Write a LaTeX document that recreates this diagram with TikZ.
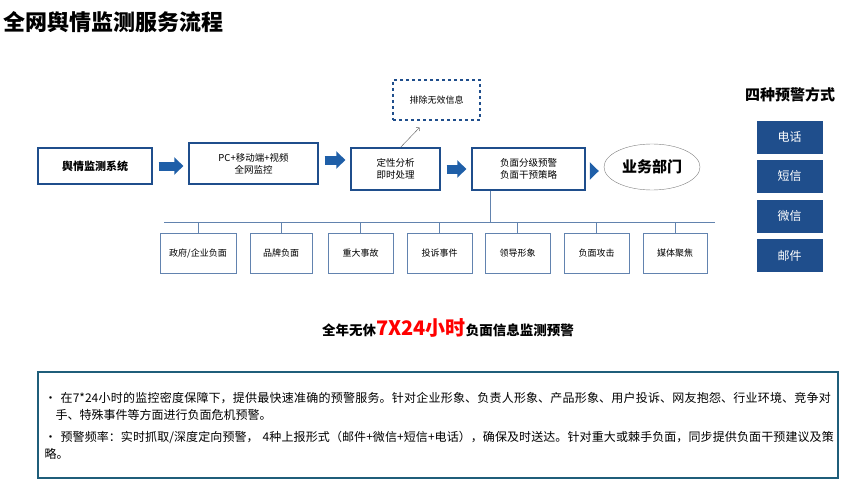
\documentclass[tikz,border=0pt]{standalone}
\usepackage{fontspec}
\setmainfont{Noto Sans CJK SC}
\XeTeXlinebreaklocale "zh"
\XeTeXlinebreakskip=0pt plus 1pt
\usetikzlibrary{arrows.meta, shapes.geometric}
\definecolor{boxblue}{HTML}{1F4E8C}
\definecolor{arrblue}{HTML}{1F5FA8}
\definecolor{tealline}{HTML}{1F5E7A}

\tikzset{
  flowbox/.style={draw=boxblue, line width=1.3pt, fill=white, inner sep=0pt, font=\fontsize{9.5}{12}\selectfont, align=center},
  leafbox/.style={draw=boxblue!70, line width=0.8pt, fill=white, minimum height=40pt, inner sep=0pt, font=\fontsize{9}{10}\selectfont},
  modebox/.style={draw=boxblue, fill=boxblue, text=white, minimum width=65pt, minimum height=32pt, font=\fontsize{12}{14}\selectfont},
  blockarrow/.style={arrblue, line width=9pt, -{Triangle[length=9pt,width=17pt]}, shorten <=6pt, shorten >=5pt}
}

\begin{document}
\begin{tikzpicture}[x=1pt, y=-1pt]
		\useasboundingbox (0,0) rectangle (853,500);

		% Title
		\node[anchor=west, font=\fontsize{22}{26}\selectfont\bfseries] (title) at (0,22) {全网舆情监测服务流程};

		% Main flow
		\node[flowbox, minimum width=114pt, minimum height=36pt, font=\fontsize{11}{13}\selectfont\bfseries] (sys) at (95,166) {\raisebox{-8pt}{舆情监测系统}};
		\node[flowbox, minimum width=129pt, minimum height=41pt] (pc) at (253.5,163.5) {PC+移动端+视频\\全网监控};
		\node[flowbox, minimum width=89pt, minimum height=42pt] (ana) at (395.5,169) {定性分析\\即时处理};
		\node[flowbox, minimum width=113pt, minimum height=42pt] (warn) at (528.5,169) {负面分级预警\\负面干预策略};
		\node[draw=gray, ellipse, fill=white, minimum width=96pt, minimum height=46pt, font=\fontsize{15}{17}\selectfont\bfseries] (dept) at (652,167) {业务部门};
		\node[draw=boxblue, dashed, line width=1.2pt, minimum width=87pt, minimum height=40pt, font=\fontsize{9}{10}\selectfont] (excl) at (436.5,100) {排除无效信息};

		% Arrows
		\draw[blockarrow] (sys.east) -- (sys.east -| pc.west);
		\draw[blockarrow] ([yshift=3.5pt]pc.east) -- ([yshift=3.5pt]pc.east -| ana.west);
		\draw[blockarrow] (ana.east) -- (warn.west);
		\draw[blockarrow] ([yshift=-2pt]warn.east) -- ([yshift=-2pt]warn.east -| dept.west);
		\coordinate (ex) at ([xshift=5pt]ana.north);
		\coordinate (exend) at ([xshift=-17pt, yshift=-7pt]excl.south);
		\draw[->, gray!70!black] (ex) -- (exend);

		% Leaf boxes
		\coordinate (bus) at (490,222);
		\draw[boxblue!70, line width=0.8pt] (warn.south -| bus) -- (bus);
		\draw[boxblue!70, line width=0.8pt] (164,222) -- (715,222);
		\foreach \n/\x/\w/\t in {l1/198/76/{政府/企业负面}, l2/281/62/品牌负面, l3/360.5/65/重大事故, l4/439.5/65/投诉事件, l5/517.5/65/领导形象, l6/596.5/65/负面攻击, l7/675/64/媒体聚焦} {
			\draw[boxblue!70, line width=0.8pt] (\x,222) -- (\x,233);
			\node[leafbox, minimum width=\w pt] (\n) at (\x,253) {\t};
		}

		% Warning modes
		\node[font=\fontsize{15}{17}\selectfont\bfseries] (modes) at (790,95) {四种预警方式};
		\node[modebox] (m1) at (789.5,137) {电话};
		\node[modebox] (m2) at (789.5,176) {短信};
		\node[modebox] (m3) at (789.5,216) {微信};
		\node[modebox] (m4) at (789.5,255.5) {邮件};

		% Slogan
		\node[font=\fontsize{13.5}{16}\selectfont\bfseries] (slogan) at (448,328) {全年无休\textcolor{red}{\fontsize{20}{22}\selectfont 7X24小时}负面信息监测预警};

		% Description box
		\draw[tealline, line width=1.5pt] (38,372) rectangle (838,478);
		\node[anchor=north west, text width=792pt, font=\fontsize{12}{16.5}\selectfont, align=left] (desc) at (41,389) {%
			\hangindent=11pt\hangafter=1 •\ 在7*24小时的监控密度保障下，提供最快速准确的预警服务。针对企业形象、负责人形象、产品形象、用户投诉、网友抱怨、行业环境、竞争对手、特殊事件等方面进行负面危机预警。\par
			\vspace{6pt}
			•\ 预警频率：实时抓取/深度定向预警， 4种上报形式（邮件+微信+短信+电话），确保及时送达。针对重大或棘手负面，同步提供负面干预建议及策略。};
	\end{tikzpicture}
\end{document}
